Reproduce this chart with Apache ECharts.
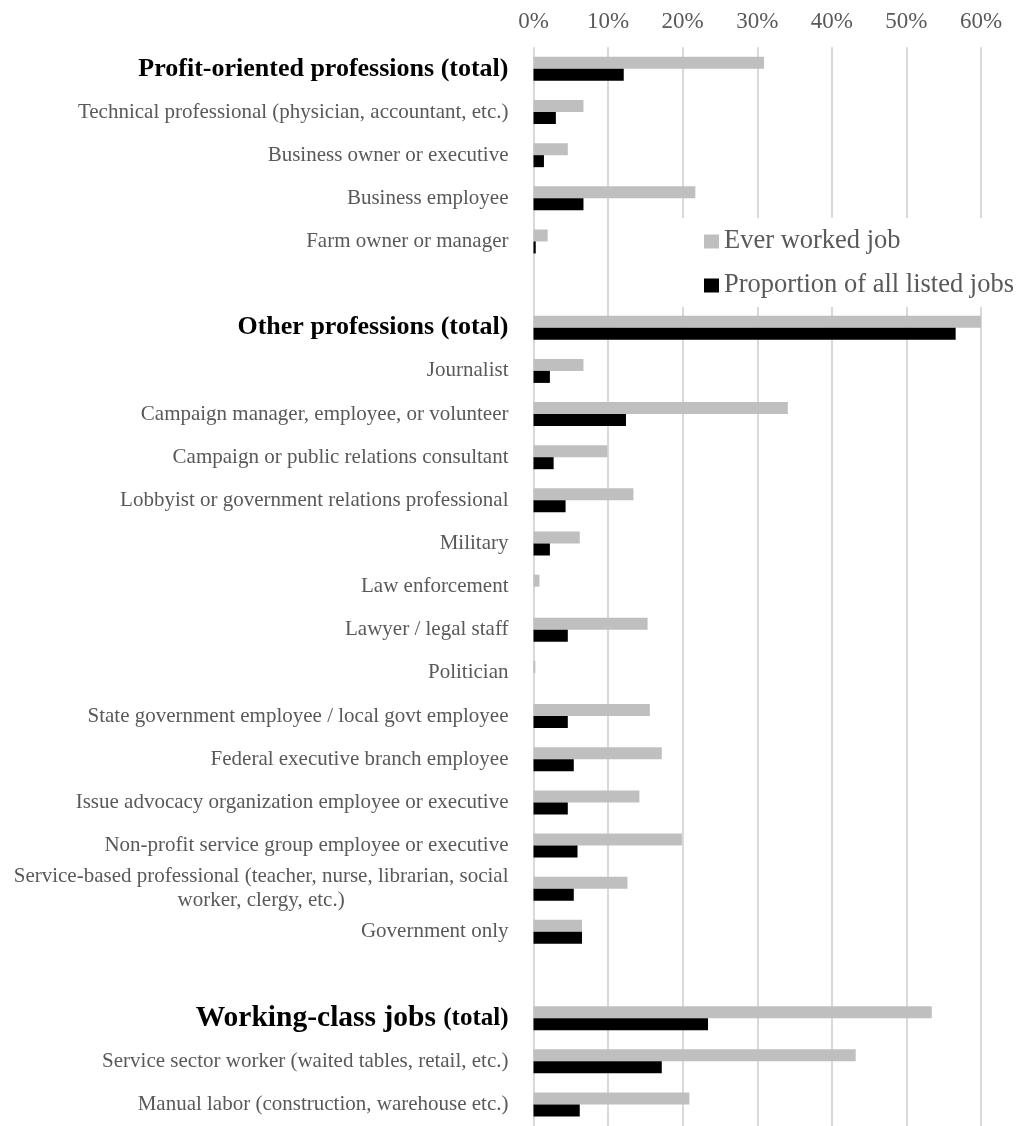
<!DOCTYPE html>
<html>
<head>
<meta charset="utf-8">
<script src="https://cdn.jsdelivr.net/npm/echarts@6/dist/echarts.min.js"></script>
<style>
  html, body { margin: 0; padding: 0; background: #ffffff; }
  #chart { width: 1021px; height: 1126px; }
</style>
</head>
<body>
<div id="chart"></div>
<script>
// Categories (top to bottom); ' ' and '  ' are empty spacer rows
var categories = [
  'Profit-oriented professions (total)',
  'Technical professional (physician, accountant, etc.)',
  'Business owner or executive',
  'Business employee',
  'Farm owner or manager',
  ' ',
  'Other professions (total)',
  'Journalist',
  'Campaign manager, employee, or volunteer',
  'Campaign or public relations consultant',
  'Lobbyist or government relations professional',
  'Military',
  'Law enforcement',
  'Lawyer / legal staff',
  'Politician',
  'State government employee / local govt employee',
  'Federal executive branch employee',
  'Issue advocacy organization employee or executive',
  'Non-profit service group employee or executive',
  'Service-based professional (teacher, nurse, librarian, social\nworker, clergy, etc.)',
  'Government only',
  '  ',
  'Working-class jobs (total)',
  'Service sector worker (waited tables, retail, etc.)',
  'Manual labor (construction, warehouse etc.)'
];

// Percent values
var everWorked = [
  30.9, 6.7, 4.6, 21.7, 1.9,
  null,
  60.1, 6.7, 34.1, 9.9, 13.4, 6.2, 0.8, 15.3, 0.25, 15.6, 17.2, 14.2, 19.9, 12.6, 6.5,
  null,
  53.4, 43.2, 20.9
];

var proportion = [
  12.1, 3.0, 1.4, 6.7, 0.3,
  null,
  56.6, 2.2, 12.4, 2.7, 4.3, 2.2, 0, 4.6, 0, 4.6, 5.4, 4.6, 5.9, 5.4, 6.5,
  null,
  23.4, 17.2, 6.2
];

var seriesNames = ['Ever worked job', 'Proportion of all listed jobs'];
var tickValues = [0, 10, 20, 30, 40, 50, 60];

var serif = "'Liberation Serif', 'Times New Roman', serif";

var chart = echarts.init(document.getElementById('chart'));

chart.setOption({
  animation: false,
  backgroundColor: '#ffffff',
  grid: {
    left: 533.5,
    right: 40,
    top: 47.3,
    bottom: -4.6,
    containLabel: false
  },
  legend: {
    orient: 'vertical',
    left: 681,
    top: 218,
    padding: [10, 0, 8, 23],
    backgroundColor: '#ffffff',
    itemWidth: 15,
    itemHeight: 14,
    itemGap: 17,
    icon: 'rect',
    data: seriesNames,
    textStyle: {
      fontFamily: serif,
      fontSize: 26.5,
      color: '#595959'
    }
  },
  xAxis: {
    type: 'value',
    position: 'top',
    min: tickValues[0],
    max: tickValues[tickValues.length - 1],
    interval: 10,
    axisLine: { show: false },
    axisTick: { show: false },
    axisLabel: {
      margin: 14,
      fontFamily: serif,
      fontSize: 23,
      color: '#595959',
      formatter: '{value}%'
    },
    splitLine: {
      show: true,
      lineStyle: { color: '#d9d9d9', width: 2 }
    }
  },
  yAxis: {
    type: 'category',
    inverse: true,
    data: categories,
    axisLine: { show: false },
    axisTick: { show: false },
    splitLine: { show: false },
    axisLabel: {
      interval: 0,
      margin: 25,
      fontFamily: serif,
      fontSize: 21,
      color: '#595959',
      formatter: function (value) {
        if (value.indexOf('Working-class') === 0) {
          return '{w|Working-class jobs }{t|(total)}';
        }
        if (value.indexOf('(total)') >= 0) {
          return '{b|' + value + '}';
        }
        if (value.indexOf('\n') >= 0) {
          var parts = value.split('\n');
          return '{r|' + parts[0] + '}\n{c|' + parts[1] + '}';
        }
        return '{r|' + value + '}';
      },
      rich: {
        b: { fontFamily: serif, fontSize: 26, fontWeight: 'bold', color: '#000000' },
        w: { fontFamily: serif, fontSize: 29.5, fontWeight: 'bold', color: '#000000' },
        t: { fontFamily: serif, fontSize: 25, fontWeight: 'bold', color: '#000000' },
        r: { fontFamily: serif, fontSize: 21, color: '#595959', lineHeight: 24 },
        c: { fontFamily: serif, fontSize: 21, color: '#595959', lineHeight: 24, align: 'center' }
      }
    }
  },
  series: [
    {
      name: seriesNames[0],
      type: 'bar',
      data: everWorked,
      barWidth: 12,
      barGap: '0%',
      itemStyle: { color: '#bfbfbf' }
    },
    {
      name: seriesNames[1],
      type: 'bar',
      data: proportion,
      barWidth: 12,
      barGap: '0%',
      itemStyle: { color: '#000000' }
    }
  ]
});
</script>
</body>
</html>
